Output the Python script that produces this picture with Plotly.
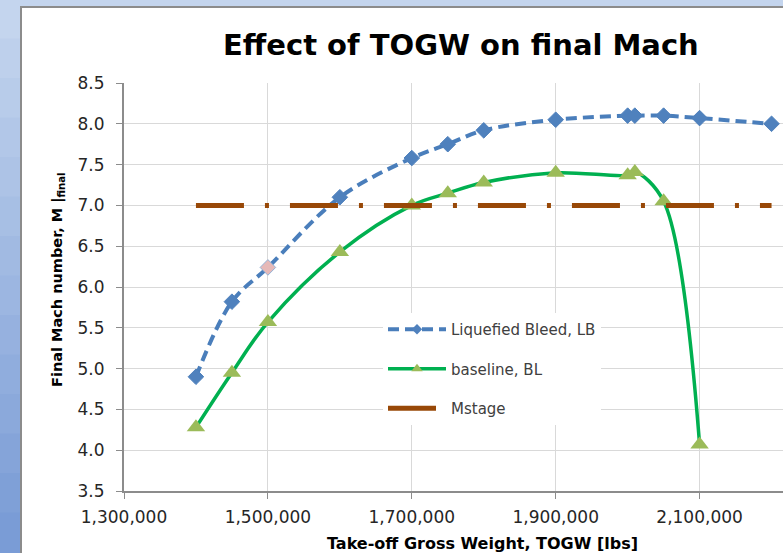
from plotly import graph_objects as go

# Take-off gross weight [lbs] and final Mach number for each case
togw_lb = [1400000, 1450000, 1500000, 1600000, 1700000, 1750000, 1800000,
           1900000, 2000000, 2010000, 2050000, 2100000, 2200000]
mach_lb = [4.90, 5.82, 6.24, 7.10, 7.58, 7.75, 7.92, 8.05, 8.10, 8.10, 8.10, 8.07, 8.00]

togw_bl = [1400000, 1450000, 1500000, 1600000, 1700000, 1750000, 1800000,
           1900000, 2000000, 2010000, 2050000, 2100000]
mach_bl = [4.28, 4.95, 5.57, 6.43, 7.00, 7.15, 7.28, 7.40, 7.37, 7.41, 7.05, 4.07]

togw_stage = [1400000, 2200000]
mach_stage = [7.0, 7.0]

x_ticks = [1300000, 1500000, 1700000, 1900000, 2100000]
y_ticks = [3.5, 4.0, 4.5, 5.0, 5.5, 6.0, 6.5, 7.0, 7.5, 8.0, 8.5]

FONT = "DejaVu Sans"
W, H = 783, 553
L, R, T, B = 124, 0, 83, 62
PW, PH = W - L - R, H - T - B


def px_x(px):
    return (px - L) / PW


def px_y(py):
    return (H - B - py) / PH


# pink highlighted point at 1,500,000 on the LB curve
lb_colors = ['#E6B9B8' if x == 1500000 else '#4F81BD' for x in togw_lb]
lb_lines = ['#95B3D7' if x == 1500000 else '#4F81BD' for x in togw_lb]

lb_line = dict(color='#4A7EBB', width=4, dash='11px,6px', shape='spline')
bl_line = dict(color='#00B050', width=3.5, shape='spline')
st_line = dict(color='#984807', width=5, dash='48px,21px,4px,21px')

fig = go.Figure()
fig.add_trace(go.Scatter(
    x=togw_lb, y=mach_lb, showlegend=False, mode='lines+markers', line=lb_line,
    marker=dict(symbol='diamond', size=12, color=lb_colors, line=dict(color=lb_lines, width=1)),
    cliponaxis=False))
fig.add_trace(go.Scatter(
    x=togw_bl, y=mach_bl, showlegend=False, mode='lines+markers', line=bl_line,
    marker=dict(symbol='triangle-up', size=16, color='#9BBB59'),
    cliponaxis=False))
fig.add_trace(go.Scatter(
    x=togw_stage, y=mach_stage, showlegend=False, mode='lines', line=st_line,
    cliponaxis=False))

# legend entries (smaller markers, like the original legend)
fig.add_trace(go.Scatter(x=[None], y=[None], name='Liquefied Bleed, LB', legendgroup='a',
                         mode='lines+markers', line=lb_line,
                         marker=dict(symbol='diamond', size=8, color='#4F81BD')))
fig.add_trace(go.Scatter(x=[None], y=[None], name='baseline, BL', legendgroup='b',
                         mode='lines+markers', line=bl_line,
                         marker=dict(symbol='triangle-up', size=10, color='#9BBB59')))
fig.add_trace(go.Scatter(x=[None], y=[None], name='Mstage', legendgroup='c',
                         mode='lines', line=st_line))

# slide background: blue gradient bands, then the white chart area
shapes = []
n = 14
top_c, bot_c = (196, 213, 238), (122, 156, 214)
for i in range(n):
    t = i / (n - 1)
    c = tuple(int(top_c[k] + (bot_c[k] - top_c[k]) * t) for k in range(3))
    shapes.append(dict(type='rect', xref='paper', yref='paper', layer='below',
                       x0=px_x(-5), x1=px_x(W + 5),
                       y0=px_y(i * H / n - 1), y1=px_y((i + 1) * H / n + 1),
                       fillcolor='rgb(%d,%d,%d)' % c, line_width=0))
shapes.append(dict(type='rect', xref='paper', yref='paper', layer='below',
                   x0=px_x(21), x1=px_x(W + 20), y0=px_y(7), y1=px_y(H + 20),
                   fillcolor='white', line=dict(color='#8C8C8C', width=2)))

fig.update_layout(
    width=W, height=H,
    margin=dict(l=L, r=R, t=T, b=B),
    paper_bgcolor='#A9C0E6', plot_bgcolor='rgba(0,0,0,0)',
    font=dict(family=FONT, color='#404040'),
    shapes=shapes,
    showlegend=True,
    legend=dict(x=px_x(383), y=px_y(313), xanchor='left', yanchor='top',
                bgcolor='white', font=dict(size=15, color='#404040'),
                itemwidth=58, tracegroupgap=17, traceorder='grouped'),
    annotations=[
        dict(text='<b>Effect of TOGW on final Mach</b>', xref='paper', yref='paper',
             x=px_x(461), y=px_y(45), xanchor='center', yanchor='middle', showarrow=False,
             font=dict(size=29, color='black', family=FONT)),
        dict(text='<b>Final Mach number, M |<sub>final</sub></b>', xref='paper', yref='paper',
             x=px_x(58), y=px_y(280), xanchor='center', yanchor='middle',
             textangle=-90, showarrow=False,
             font=dict(size=14.5, color='black', family=FONT)),
        dict(text='<b>Take-off Gross Weight, TOGW [lbs]</b>', xref='paper', yref='paper',
             x=px_x(483), y=px_y(543), xanchor='center', yanchor='middle', showarrow=False,
             font=dict(size=16, color='black', family=FONT)),
    ],
)

fig.update_xaxes(range=[1300000, 1300000 + PW / 143.9 * 200000], tickvals=x_ticks,
                 tickformat=',', showgrid=True, gridcolor='#D9D9D9', gridwidth=1,
                 showline=True, linecolor='#8C8C8C', linewidth=2,
                 ticks='outside', ticklen=6, tickcolor='#8C8C8C', tickwidth=1,
                 ticklabelstandoff=4, zeroline=False,
                 tickfont=dict(size=17, color='#262626'))
fig.update_yaxes(range=[3.5, 8.5], tickvals=y_ticks, tickformat='.1f',
                 showgrid=True, gridcolor='#D9D9D9', gridwidth=1,
                 showline=True, linecolor='#8C8C8C', linewidth=2,
                 ticks='outside', ticklen=6, tickcolor='#8C8C8C', tickwidth=1,
                 ticklabelstandoff=8, zeroline=False,
                 tickfont=dict(size=17, color='#262626'))

fig.write_html("out.html", config={'displayModeBar': False},
               post_script="document.body.style.margin='0';document.body.style.overflow='hidden';")
